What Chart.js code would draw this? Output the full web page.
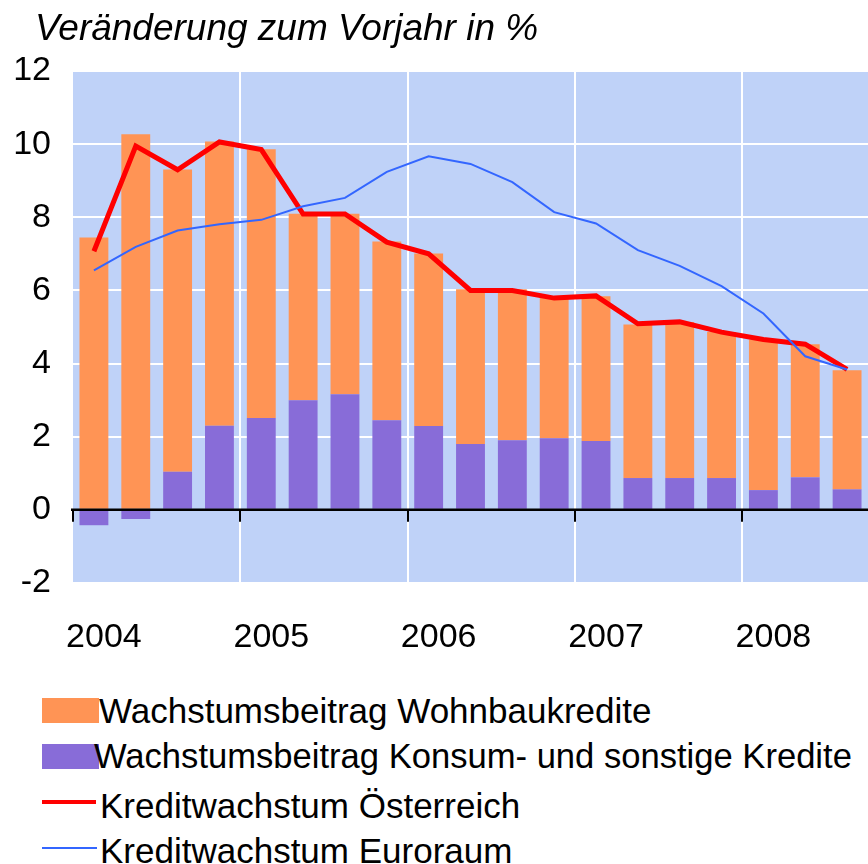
<!DOCTYPE html>
<html>
<head>
<meta charset="utf-8">
<script src="https://cdn.jsdelivr.net/npm/chart.js@4"></script>
<style>
  body { margin: 0; background: #fff; width: 868px; height: 864px; overflow: hidden; position: relative;
         font-family: 'Liberation Sans', Arial, sans-serif; color: #000; }
  #title { position: absolute; left: 35px; top: 9px; font-size: 37px; font-style: italic; line-height: 1; white-space: nowrap; }
  #wrap { position: absolute; left: 0; top: 0; width: 868px; height: 680px; }
  .sw { position: absolute; }
  .txt { position: absolute; font-size: 35px; line-height: 1; white-space: nowrap; }
</style>
</head>
<body>
<div id="wrap"><canvas id="chart" width="868" height="680"></canvas></div>
<div id="title">Veränderung zum Vorjahr in %</div>

<div class="sw" style="left:42px; top:698px; width:57px; height:25px; background:#FF9455;"></div>
<div class="txt" style="left:99px; top:693px;">Wachstumsbeitrag Wohnbaukredite</div>
<div class="sw" style="left:42px; top:744px; width:57px; height:25px; background:#886CD8;"></div>
<div class="txt" style="left:94px; top:739px; font-size:34.6px;">Wachstumsbeitrag Konsum- und sonstige Kredite</div>
<div class="sw" style="left:42px; top:800px; width:54px; height:4px; background:#FF0000;"></div>
<div class="txt" style="left:100px; top:788px;">Kreditwachstum Österreich</div>
<div class="sw" style="left:42px; top:847px; width:55px; height:2px; background:#3366FF;"></div>
<div class="txt" style="left:100px; top:833px;">Kreditwachstum Euroraum</div>

<script>
// Quartale 2004 Q1 bis 2008 Q3
const quarters = ['Q1 2004', 'Q2 2004', 'Q3 2004', 'Q4 2004',
                  'Q1 2005', 'Q2 2005', 'Q3 2005', 'Q4 2005',
                  'Q1 2006', 'Q2 2006', 'Q3 2006', 'Q4 2006',
                  'Q1 2007', 'Q2 2007', 'Q3 2007', 'Q4 2007',
                  'Q1 2008', 'Q2 2008', 'Q3 2008'];

// Wachstumsbeiträge (Prozentpunkte)
const wohnbau = [7.45, 10.27, 8.27, 7.77, 7.35, 5.10, 4.94, 4.89, 4.72, 4.23,
                 4.13, 3.86, 3.96, 4.20, 4.27, 3.99, 4.12, 3.64, 3.26];
const konsum = [-0.42, -0.25, 1.04, 2.30, 2.51, 3.00, 3.16, 2.45, 2.29, 1.80,
                1.90, 1.96, 1.88, 0.87, 0.87, 0.87, 0.54, 0.89, 0.56];

// Kreditwachstum in %
const oesterreich = [7.07, 9.95, 9.30, 10.06, 9.85, 8.09, 8.09, 7.32, 7.00, 6.00,
                     6.00, 5.79, 5.85, 5.09, 5.14, 4.86, 4.66, 4.53, 3.84];
const euroraum = [6.55, 7.19, 7.64, 7.81, 7.93, 8.30, 8.53, 9.24, 9.67, 9.46,
                  8.96, 8.14, 7.83, 7.10, 6.67, 6.12, 5.37, 4.20, 3.84];

const yTicks = [-2, 0, 2, 4, 6, 8, 10, 12];

const FONT = "'Liberation Sans', Arial, sans-serif";

// Hintergrund der Zeichenfläche
const plotBg = {
    id: 'plotBg',
    beforeDraw(chart) {
        const { ctx, chartArea: a } = chart;
        ctx.save();
        ctx.fillStyle = '#BFD2F8';
        ctx.fillRect(a.left, a.top, a.right - a.left, a.bottom - a.top);
        ctx.restore();
    }
};

// Nulllinie mit Jahresmarkierungen
const zeroAxis = {
    id: 'zeroAxis',
    afterDatasetsDraw(chart) {
        const { ctx, chartArea: a, scales: { x, y } } = chart;
        const y0 = y.getPixelForValue(0);
        const half = (x.getPixelForValue(1) - x.getPixelForValue(0)) / 2;
        ctx.save();
        ctx.strokeStyle = '#000';
        ctx.lineWidth = 2.5;
        ctx.beginPath();
        ctx.moveTo(a.left - 2, y0);
        ctx.lineTo(a.right, y0);
        ctx.stroke();
        ctx.lineWidth = 2;
        for (let i = 0; i < quarters.length; i += 4) {
            const px = Math.round(x.getPixelForValue(i) - half);
            ctx.beginPath();
            ctx.moveTo(px, y0);
            ctx.lineTo(px, y0 + 12);
            ctx.stroke();
        }
        ctx.restore();
    }
};

document.addEventListener('DOMContentLoaded', () => {
    const ctx = document.getElementById('chart').getContext('2d');

    new Chart(ctx, {
        type: 'bar',
        data: {
            labels: quarters,
            datasets: [
                {
                    type: 'line',
                    label: 'Kreditwachstum Euroraum',
                    data: euroraum,
                    borderColor: '#3366FF',
                    borderWidth: 2,
                    pointRadius: 0,
                    tension: 0,
                    stack: 'euro',
                    order: 0
                },
                {
                    type: 'line',
                    label: 'Kreditwachstum Österreich',
                    data: oesterreich,
                    borderColor: '#FF0000',
                    borderWidth: 5,
                    pointRadius: 0,
                    tension: 0,
                    stack: 'at',
                    order: 1
                },
                {
                    label: 'Wachstumsbeitrag Konsum- und sonstige Kredite',
                    data: konsum,
                    backgroundColor: '#886CD8',
                    stack: 'beitrag',
                    order: 2
                },
                {
                    label: 'Wachstumsbeitrag Wohnbaukredite',
                    data: wohnbau,
                    backgroundColor: '#FF9455',
                    stack: 'beitrag',
                    order: 2
                }
            ]
        },
        options: {
            responsive: false,
            animation: false,
            categoryPercentage: 1,
            barPercentage: 0.69,
            layout: { padding: { top: 71, right: -4, left: 0, bottom: 0 } },
            scales: {
                x: {
                    stacked: true,
                    afterFit: (scale) => {
                        scale.height = 97;
                        scale.paddingLeft = 0;
                        scale.paddingRight = 0;
                    },
                    border: { display: false },
                    grid: {
                        offset: true,
                        drawTicks: false,
                        lineWidth: 2,
                        color: (c) => (c.index > 0 && c.index % 4 === 0) ? '#FFFFFF' : 'rgba(0,0,0,0)'
                    },
                    ticks: {
                        autoSkip: false,
                        maxRotation: 0,
                        padding: 34,
                        labelOffset: 10,
                        color: '#000',
                        font: { family: FONT, size: 34 },
                        callback: (v, i) => quarters[i].startsWith('Q1') ? quarters[i].slice(3) : ''
                    }
                },
                y: {
                    stacked: true,
                    min: -2,
                    max: 12,
                    afterFit: (scale) => { scale.width = 73; },
                    afterBuildTicks: (scale) => { scale.ticks = yTicks.map(v => ({ value: v })); },
                    border: { display: false },
                    grid: {
                        drawTicks: false,
                        lineWidth: 2,
                        color: '#FFFFFF'
                    },
                    ticks: {
                        padding: 22,
                        color: '#000',
                        font: { family: FONT, size: 34 }
                    }
                }
            },
            plugins: {
                legend: { display: false },
                title: { display: false },
                tooltip: { enabled: false }
            }
        },
        plugins: [plotBg, zeroAxis]
    });
});
</script>
</body>
</html>
